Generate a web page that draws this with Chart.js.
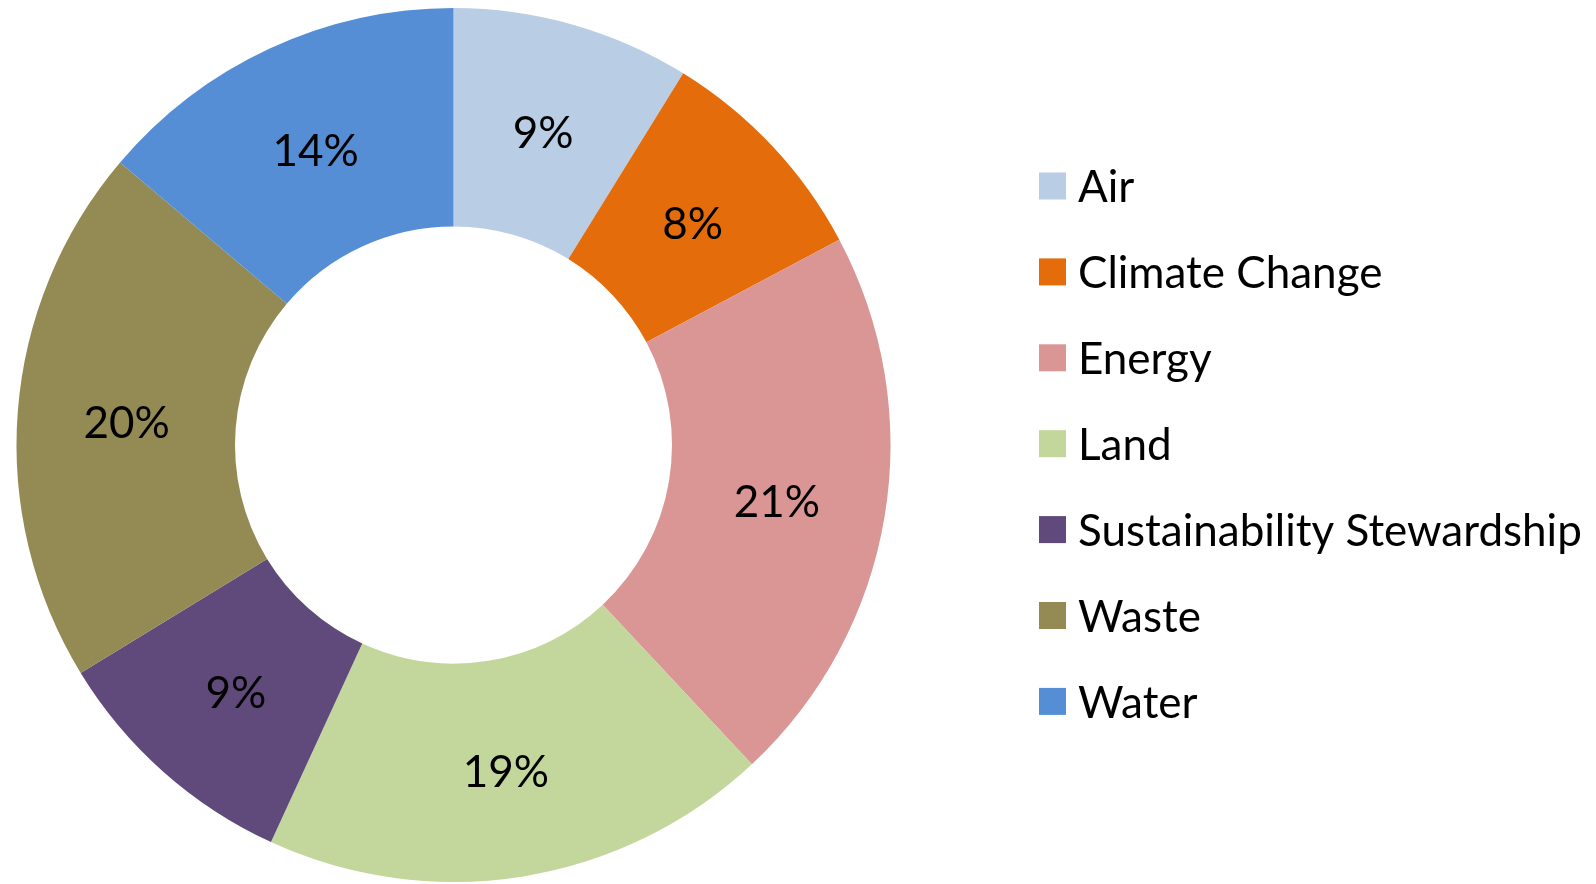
<!DOCTYPE html>
<html>
<head>
<meta charset="utf-8">
<script src="https://cdn.jsdelivr.net/npm/chart.js@4/dist/chart.umd.min.js"></script>
<style>
  html, body { margin: 0; padding: 0; background: #fff; }
  #wrap { width: 1596px; height: 884px; position: relative; }
</style>
</head>
<body>
<div id="wrap"><canvas id="grafico"></canvas></div>
<script>
// data
var categorias = ['Air', 'Climate Change', 'Energy', 'Land', 'Sustainability Stewardship', 'Waste', 'Water'];
var valores = [8.8, 8.4, 20.8, 18.8, 9.4, 19.9, 13.8];
var cores = ['#B9CDE5', '#E46C0A', '#D99694', '#C3D69B', '#604A7B', '#948A54', '#558ED5'];

var fonte = 'Lato, "Open Sans", sans-serif';

// percent labels in the middle of each slice
var rotulos = {
    id: 'rotulos',
    afterDatasetsDraw: function(chart) {
        var ctx = chart.ctx;
        var meta = chart.getDatasetMeta(0);
        var dados = chart.data.datasets[0].data;
        var total = dados.reduce(function(a, b) { return a + b; }, 0);
        ctx.save();
        ctx.font = '44px ' + fonte;
        ctx.fillStyle = '#000';
        ctx.textAlign = 'center';
        ctx.textBaseline = 'middle';
        meta.data.forEach(function(arc, i) {
            var p = arc.getCenterPoint();
            ctx.fillText(Math.round(dados[i] / total * 100) + '%', p.x, p.y + 4);
        });
        ctx.restore();
    }
};

// legend on the right, drawn by hand
var legenda = {
    id: 'legenda',
    afterDraw: function(chart) {
        var ctx = chart.ctx;
        var x = 1039, y0 = 186, passo = 85.9, caixa = 27;
        ctx.save();
        ctx.font = '44px ' + fonte;
        ctx.textBaseline = 'middle';
        chart.data.labels.forEach(function(nome, i) {
            var y = y0 + i * passo;
            ctx.fillStyle = chart.data.datasets[0].backgroundColor[i];
            ctx.fillRect(x, y - caixa / 2, caixa, caixa);
            ctx.fillStyle = '#000';
            ctx.fillText(nome, x + 39, y + 2);
        });
        ctx.restore();
    }
};

var ctx = document.getElementById('grafico').getContext('2d');
var chart = new Chart(ctx, {
    type: 'doughnut',
    data: {
        labels: categorias,
        datasets: [{
            data: valores,
            backgroundColor: cores,
            borderWidth: 0
        }]
    },
    options: {
        responsive: true,
        maintainAspectRatio: false,
        animation: false,
        cutout: '50%',
        layout: { padding: { left: 16, right: 705, top: 8, bottom: 2 } },
        plugins: {
            legend: { display: false },
            tooltip: { enabled: false }
        }
    },
    plugins: [rotulos, legenda]
});
</script>
</body>
</html>
